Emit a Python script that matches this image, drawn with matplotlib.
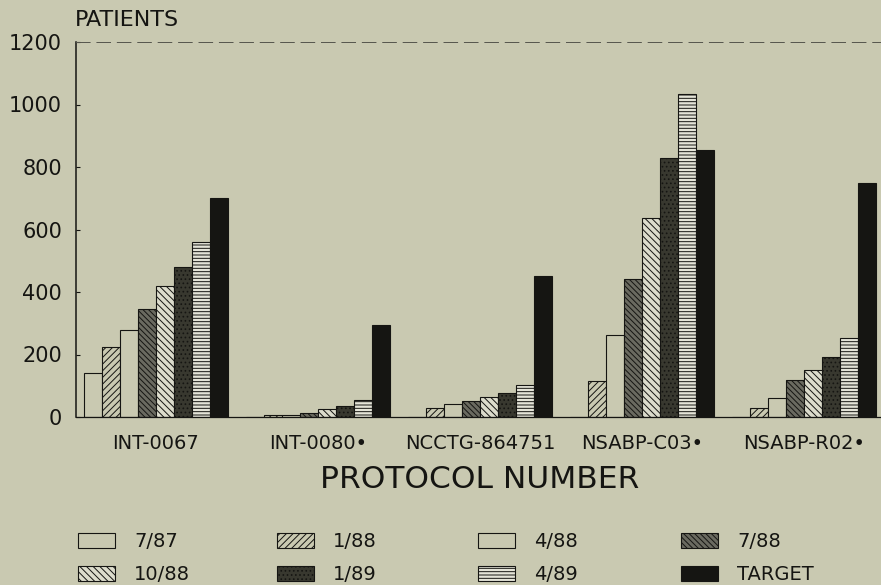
import matplotlib
matplotlib.use('Agg')
import matplotlib.pyplot as plt
from matplotlib.patches import Rectangle
import numpy as np

# data
protocols = ['INT-0067', 'INT-0080\u2022', 'NCCTG-864751', 'NSABP-C03\u2022', 'NSABP-R02\u2022']
series = ['7/87', '1/88', '4/88', '7/88', '10/88', '1/89', '4/89', 'TARGET']
v_7_87 = [140, 0, 0, 0, 0]
v_1_88 = [225, 5, 29, 115, 29]
v_4_88 = [280, 8, 42, 262, 61]
v_7_88 = [345, 12, 51, 441, 119]
v_10_88 = [420, 26, 64, 637, 151]
v_1_89 = [480, 36, 77, 830, 192]
v_4_89 = [560, 55, 103, 1035, 253]
v_target = [700, 295, 450, 855, 750]
yticks = [0, 200, 400, 600, 800, 1000, 1200]

values = [v_7_87, v_1_88, v_4_88, v_7_88, v_10_88, v_1_89, v_4_89, v_target]

bg = '#c9c9b1'
ink = '#151512'
styles = [
    dict(facecolor=bg, hatch=None),
    dict(facecolor=bg, hatch='/////'),
    dict(facecolor=bg, hatch=None),
    dict(facecolor='#6a6a60', hatch='\\\\\\\\\\\\'),
    dict(facecolor='#dcdccc', hatch='\\\\\\\\\\'),
    dict(facecolor='#38382f', hatch='....'),
    dict(facecolor='#e4e4d8', hatch='-----'),
    dict(facecolor=ink, hatch=None),
]

plt.rcParams['font.family'] = ['DejaVu Sans']
plt.rcParams['hatch.linewidth'] = 0.7

W, H = 881, 585
fig = plt.figure(figsize=(W / 100, H / 100), dpi=100, facecolor=bg)
ax = fig.add_axes([76 / W, (H - 417) / H, (880 - 76) / W, (417 - 42) / H])
ax.set_facecolor(bg)

group_step = 9
for s, vals in enumerate(values):
    x = np.arange(len(protocols)) * group_step + s + 0.5
    ax.bar(x, vals, width=1.0, edgecolor=ink, linewidth=0.8, **styles[s])

ax.set_xlim(-8 / 18, (880 - 84) / 18)
ax.set_ylim(0, 1200)
ax.set_yticks(yticks)
ax.set_yticklabels([str(t) for t in yticks], fontsize=15, color=ink)
ax.set_xticks(np.arange(len(protocols)) * group_step + 4)
ax.set_xticklabels(protocols, fontsize=14, color=ink)
ax.tick_params(axis='x', length=0, pad=12)
ax.tick_params(axis='y', direction='in', length=3, width=0.8, pad=10, colors=ink)

ax.spines['right'].set_visible(False)
ax.spines['left'].set_color(ink)
ax.spines['left'].set_linewidth(1.1)
ax.spines['bottom'].set_color(ink)
ax.spines['bottom'].set_linewidth(0.9)
ax.spines['top'].set_color('#55554c')
ax.spines['top'].set_linewidth(0.7)
ax.spines['top'].set_linestyle((0, (14, 7)))

fig.text(75 / W, 1 - 26 / H, 'PATIENTS', fontsize=16, color=ink, va='baseline', ha='left')
fig.text(480 / W, 1 - 488 / H, 'PROTOCOL NUMBER', fontsize=22.5, color=ink,
         va='baseline', ha='center')

# legend laid out as in the original: 4 columns, 2 rows
col_x = [78, 277, 478, 681]
row_y = [533, 566]
for i, name in enumerate(series):
    r, c = divmod(i, 4)
    bx, by = col_x[c], row_y[r]
    fig.add_artist(Rectangle((bx / W, 1 - (by + 15) / H), 37 / W, 15 / H,
                             transform=fig.transFigure, edgecolor=ink,
                             linewidth=0.8, **styles[i]))
    fig.text((bx + 56) / W, 1 - (by + 14) / H, name, fontsize=14, color=ink,
             va='baseline', ha='left')

fig.savefig('out.png', dpi=100, facecolor=bg)
